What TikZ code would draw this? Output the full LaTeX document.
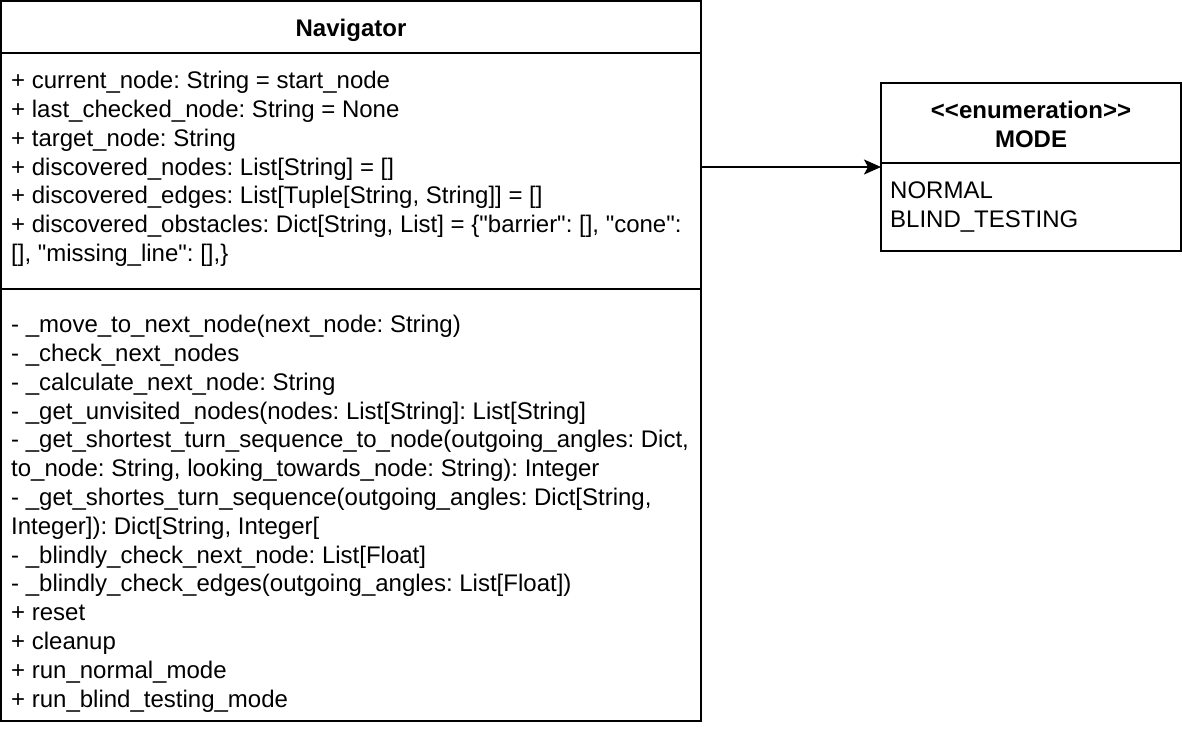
\documentclass[tikz,border=0pt]{standalone}
\usepackage{fontspec}
\newfontfamily\uml{Liberation Sans}
\usetikzlibrary{arrows.meta}
\begin{document}
\frenchspacing
\begin{tikzpicture}[x=1pt,y=-1pt,
  box/.style={draw=black,line width=2pt},
  txt/.style={anchor=base west,inner sep=0pt,font=\uml\frenchspacing\fontsize{24}{28.8}\selectfont},
  ttl/.style={anchor=base,inner sep=0pt,font=\uml\frenchspacing\bfseries\fontsize{24}{28.8}\selectfont},
  conn/.style={line width=2pt,-{Stealth[length=17pt,width=15pt,inset=4pt]}}]
\useasboundingbox (0,0) rectangle (1182,728);
% Navigator class
\draw[box] (1,1) rectangle (701,721);
\draw[box] (1,53) -- (701,53);
\draw[box] (1,289) -- (701,289);
\node[ttl] (navtitle) at (351,36.5) {Navigator};
\coordinate (navR) at (701,167);
\foreach \t [count=\i] in {
 {+ current\_node: String = start\_node},
 {+ last\_checked\_node: String = None},
 {+ target\_node: String},
 {+ discovered\_nodes: List[String] = []},
 {+ discovered\_edges: List[Tuple[String, String]] = []},
 {+ discovered\_obstacles: Dict[String, List] = \{"barrier": [], "cone":},
 {[], "missing\_line": [],\}}}
 \node[txt] (a\i) at (11,{88.6+(\i-1)*28.8}) {\t};
\foreach \t [count=\i] in {
 {- \_move\_to\_next\_node(next\_node: String)},
 {- \_check\_next\_nodes},
 {- \_calculate\_next\_node: String},
 {- \_get\_unvisited\_nodes(nodes: List[String]: List[String]},
 {- \_get\_shortest\_turn\_sequence\_to\_node(outgoing\_angles: Dict,},
 {to\_node: String, looking\_towards\_node: String): Integer},
 {- \_get\_shortes\_turn\_sequence(outgoing\_angles: Dict[String,},
 {Integer]): Dict[String, Integer[},
 {- \_blindly\_check\_next\_node: List[Float]},
 {- \_blindly\_check\_edges(outgoing\_angles: List[Float])},
 {+ reset},
 {+ cleanup},
 {+ run\_normal\_mode},
 {+ run\_blind\_testing\_mode}}
 \node[txt] (m\i) at (11,{332.6+(\i-1)*28.8}) {\t};
% MODE enumeration
\draw[box] (881,83) rectangle (1181,251);
\draw[box] (881,163) -- (1181,163);
\node[ttl] (enumst) at (1031,118.6) {<<enumeration>>};
\node[ttl] (enumname) at (1031,147.4) {MODE};
\node[txt] (e1) at (890,198.6) {NORMAL};
\node[txt] (e2) at (890,227.4) {BLIND\_TESTING};
\coordinate (modeL) at (881,167);
\draw[conn] (navR) -- (modeL);
\end{tikzpicture}
\end{document}
